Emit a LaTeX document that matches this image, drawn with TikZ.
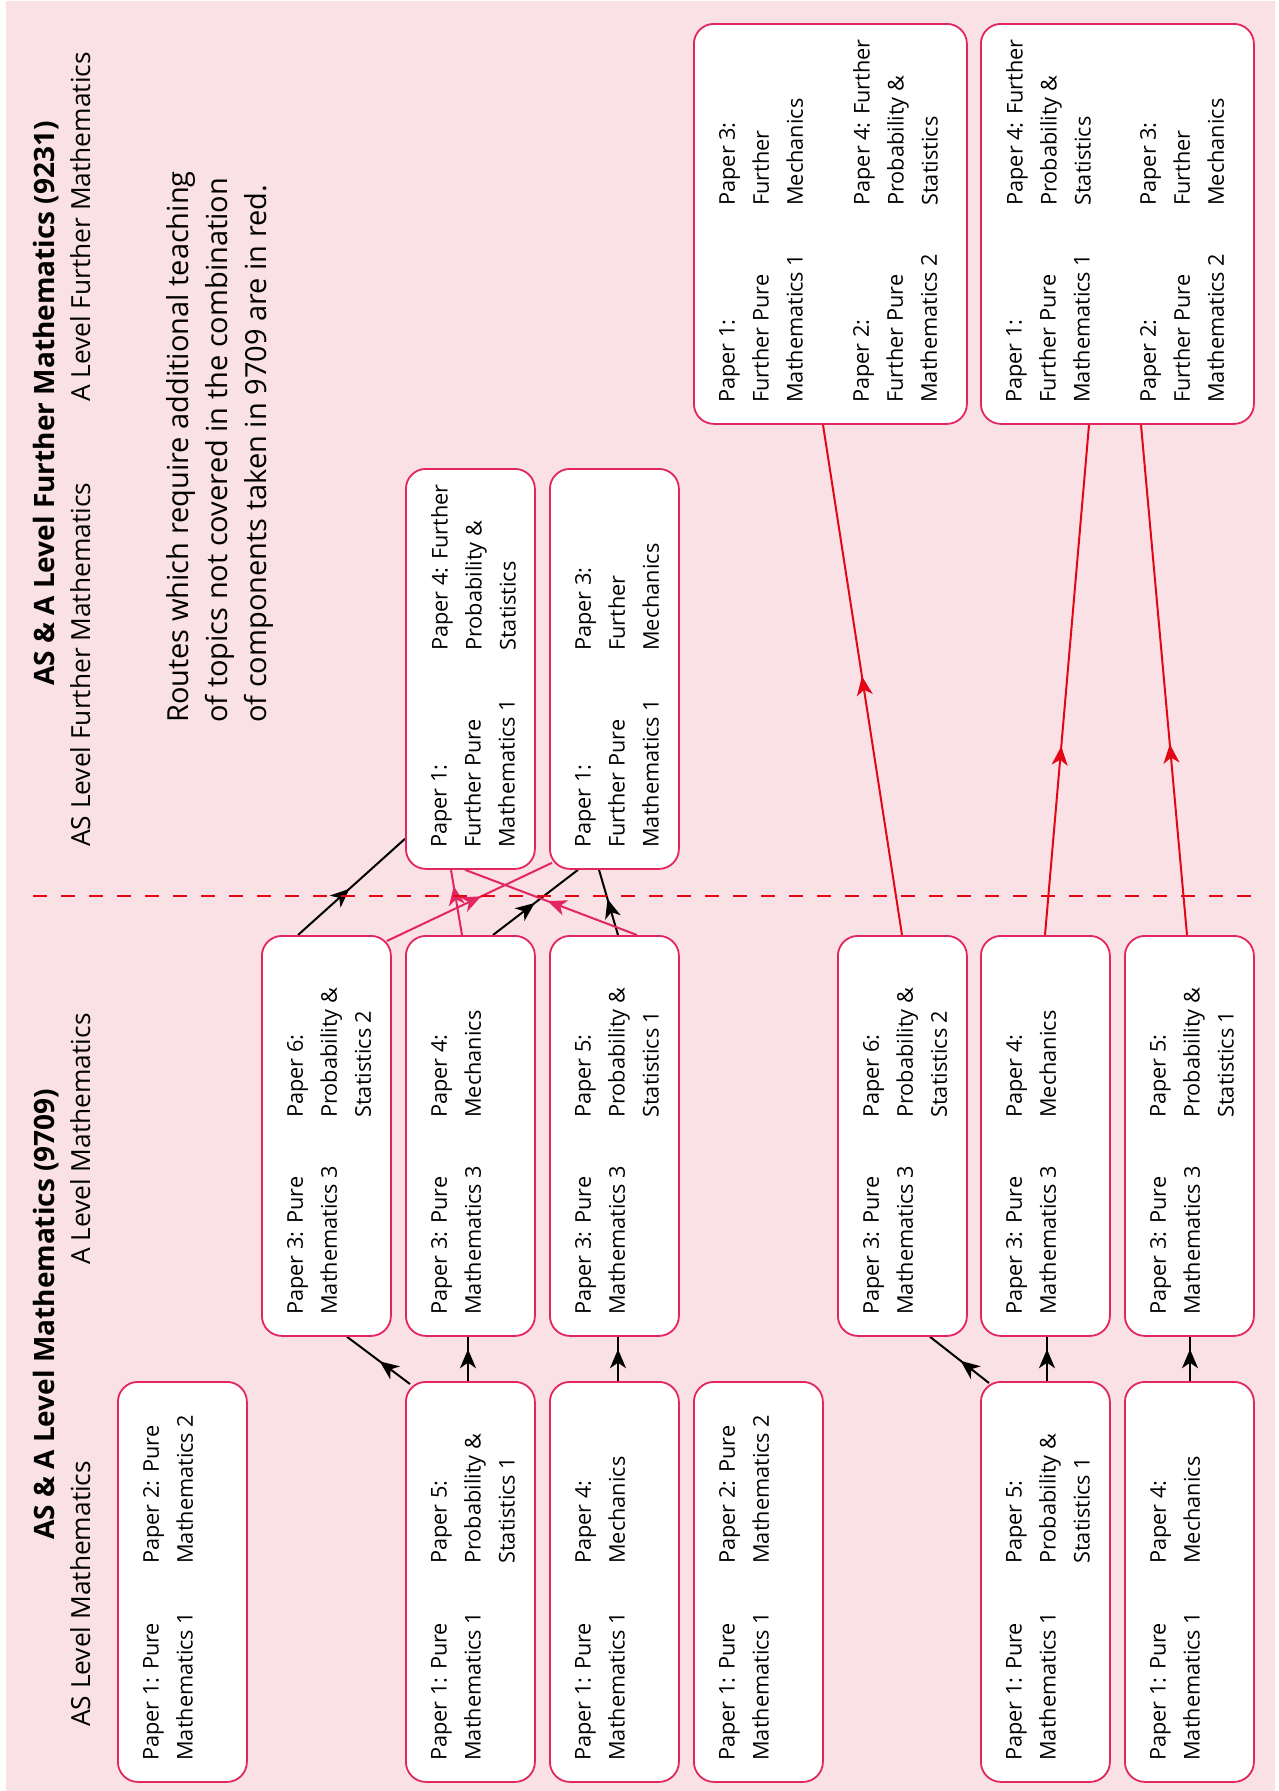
\documentclass[tikz,border=0pt]{standalone}
\usepackage{fontspec}
\setmainfont{Open Sans}
\usetikzlibrary{arrows.meta,decorations.markings,calc}
\definecolor{bgpink}{RGB}{249,225,229}
\definecolor{boxline}{RGB}{227,38,95}
\definecolor{redline}{RGB}{228,6,22}
\pgfdeclarelayer{bg}
\pgfdeclarelayer{lines}
\pgfsetlayers{bg,lines,main}
\tikzset{
  fbox/.style={draw=boxline, line width=1.8pt, fill=white, rounded corners=20pt,
    minimum height=400pt, minimum width=129pt, inner sep=0pt, anchor=north west},
  wbox/.style={fbox, minimum width=273pt},
  btext/.style={rotate=90, anchor=north west, align=left, inner sep=0pt,
    font=\fontsize{21.7pt}{34pt}\selectfont},
  hdr/.style={rotate=90, anchor=base west, inner sep=0pt, font=\fontsize{26.3pt}{30pt}\selectfont},
  ttl/.style={rotate=90, anchor=base west, inner sep=0pt, font=\bfseries\fontsize{28pt}{32pt}\selectfont},
  routestext/.style={rotate=90, anchor=north west, align=left, inner sep=0pt,
    font=\fontsize{29pt}{39pt}\selectfont},
  conn/.style={line width=2pt},
  blk/.style={conn, black},
  pnk/.style={conn, boxline},
  rd/.style={conn, redline},
  midarrow/.style={postaction={decorate}, decoration={markings,
    mark=at position #1 with {\arrow{Stealth[length=19pt,width=16pt,inset=5.5pt]}}}},
  midarrow/.default=0.5,
}
\newcommand\mycell[4]{\node[btext] (#1) at ($(#2.south west)+(#3)$) {#4};}
\begin{document}
\begin{tikzpicture}[x=1pt,y=1pt]
\useasboundingbox (0,0) rectangle (1278,-1791);
\begin{pgfonlayer}{bg}
\fill[bgpink] (6,-1) rectangle (1275,-1791);
\end{pgfonlayer}

% headers
\node[ttl] (t9231) at (54,-686) {AS \& A Level Further Mathematics (9231)};
\node[hdr] (hasf) at (90,-847) {AS Level Further Mathematics};
\node[hdr] (haf) at (90,-402) {A Level Further Mathematics};
\node[ttl] (t9709) at (54,-1540) {AS \& A Level Mathematics (9709)};
\node[hdr] (has) at (90,-1727) {AS Level Mathematics};
\node[hdr] (ha) at (90,-1265) {A Level Mathematics};
\node[routestext] (routes) at (166,-723) {Routes which require additional teaching\\of topics not covered in the combination\\of components taken in 9709 are in red.};

% dashed divider
\coordinate (dl) at (33,-896);
\coordinate (dr) at (1258,-896);
\draw[redline, line width=1.6pt, dash pattern=on 14pt off 14pt] (dl) -- (dr);

% AS level row
\node[fbox] (sA) at (117,-1381) {};
\node[fbox] (sB) at (405,-1381) {};
\node[fbox] (sC) at (549,-1381) {};
\node[fbox] (sD) at (693,-1381) {};
\node[fbox] (sE) at (980,-1381) {};
\node[fbox] (sF) at (1124,-1381) {};
% A level row
\node[fbox] (mB1) at (261,-935) {};
\node[fbox] (mB) at (405,-935) {};
\node[fbox] (mC) at (549,-935) {};
\node[fbox] (mG) at (837,-935) {};
\node[fbox] (mE) at (980,-935) {};
\node[fbox] (mF) at (1124,-935) {};
% AS further row
\node[fbox] (fs1) at (405,-468) {};
\node[fbox] (fs2) at (549,-468) {};
% A further row
\node[wbox] (fa1) at (693,-23) {};
\node[wbox] (fa2) at (980,-23) {};

% texts
\mycell{sAa}{sA}{26,22}{Paper 1: Pure\\Mathematics 1}
\mycell{sAb}{sA}{26,219}{Paper 2: Pure\\Mathematics 2}
\mycell{sBa}{sB}{26,22}{Paper 1: Pure\\Mathematics 1}
\mycell{sBb}{sB}{26,219}{Paper 5:\\Probability \&\\Statistics 1}
\mycell{sCa}{sC}{26,22}{Paper 1: Pure\\Mathematics 1}
\mycell{sCb}{sC}{26,219}{Paper 4:\\Mechanics}
\mycell{sDa}{sD}{26,22}{Paper 1: Pure\\Mathematics 1}
\mycell{sDb}{sD}{26,219}{Paper 2: Pure\\Mathematics 2}
\mycell{sEa}{sE}{26,22}{Paper 1: Pure\\Mathematics 1}
\mycell{sEb}{sE}{26,219}{Paper 5:\\Probability \&\\Statistics 1}
\mycell{sFa}{sF}{26,22}{Paper 1: Pure\\Mathematics 1}
\mycell{sFb}{sF}{26,219}{Paper 4:\\Mechanics}

\mycell{mB1a}{mB1}{26,22}{Paper 3: Pure\\Mathematics 3}
\mycell{mB1b}{mB1}{26,219}{Paper 6:\\Probability \&\\Statistics 2}
\mycell{mBa}{mB}{26,22}{Paper 3: Pure\\Mathematics 3}
\mycell{mBb}{mB}{26,219}{Paper 4:\\Mechanics}
\mycell{mCa}{mC}{26,22}{Paper 3: Pure\\Mathematics 3}
\mycell{mCb}{mC}{26,219}{Paper 5:\\Probability \&\\Statistics 1}
\mycell{mGa}{mG}{26,22}{Paper 3: Pure\\Mathematics 3}
\mycell{mGb}{mG}{26,219}{Paper 6:\\Probability \&\\Statistics 2}
\mycell{mEa}{mE}{26,22}{Paper 3: Pure\\Mathematics 3}
\mycell{mEb}{mE}{26,219}{Paper 4:\\Mechanics}
\mycell{mFa}{mF}{26,22}{Paper 3: Pure\\Mathematics 3}
\mycell{mFb}{mF}{26,219}{Paper 5:\\Probability \&\\Statistics 1}

\mycell{fs1a}{fs1}{26,22}{Paper 1:\\Further Pure\\Mathematics 1}
\mycell{fs1b}{fs1}{26,219}{Paper 4: Further\\Probability \&\\Statistics}
\mycell{fs2a}{fs2}{26,22}{Paper 1:\\Further Pure\\Mathematics 1}
\mycell{fs2b}{fs2}{26,219}{Paper 3:\\Further\\Mechanics}

\mycell{fa1a}{fa1}{26,22}{Paper 1:\\Further Pure\\Mathematics 1}
\mycell{fa1b}{fa1}{26,219}{Paper 3:\\Further\\Mechanics}
\mycell{fa1c}{fa1}{160,22}{Paper 2:\\Further Pure\\Mathematics 2}
\mycell{fa1d}{fa1}{160,219}{Paper 4: Further\\Probability \&\\Statistics}
\mycell{fa2a}{fa2}{26,22}{Paper 1:\\Further Pure\\Mathematics 1}
\mycell{fa2b}{fa2}{26,219}{Paper 4: Further\\Probability \&\\Statistics}
\mycell{fa2c}{fa2}{160,22}{Paper 2:\\Further Pure\\Mathematics 2}
\mycell{fa2d}{fa2}{160,219}{Paper 3:\\Further\\Mechanics}

% connectors
\begin{pgfonlayer}{lines}
% AS -> A level
\draw[blk, midarrow=0.48] ($(sB.north west)+(5,-3)$) -- ($(mB1.south west)+(86,0)$);
\draw[blk, midarrow=0.72] ($(sB.north west)+(63,0)$) -- ($(mB.south west)+(63,0)$);
\draw[blk, midarrow=0.72] ($(sC.north west)+(69,0)$) -- ($(mC.south west)+(69,0)$);
\draw[blk, midarrow=0.48] ($(sE.north west)+(9,-2)$) -- ($(mG.south west)+(93,0)$);
\draw[blk, midarrow=0.72] ($(sE.north west)+(67,0)$) -- ($(mE.south west)+(67,0)$);
\draw[blk, midarrow=0.72] ($(sF.north west)+(66,0)$) -- ($(mF.south west)+(66,0)$);
% A level -> AS further
\draw[blk, midarrow=0.48] ($(mB1.north west)+(37,0)$) -- ($(fs1.south west)+(0,31)$);
\draw[blk, midarrow=0.49] ($(mB.north west)+(88,0)$) -- ($(fs2.south west)+(29,0)$);
\draw[blk, midarrow=0.55] ($(mC.north west)+(69,0)$) -- ($(fs2.south west)+(50,0)$);
\draw[pnk, midarrow=0.57] ($(mB1.north east)+(-5,-6)$) -- ($(fs2.south west)+(3,7)$);
\draw[pnk, midarrow=0.75] ($(mB.north west)+(57,0)$) -- ($(fs1.south west)+(46,0)$);
\draw[pnk, midarrow=0.52] ($(mC.north west)+(88,0)$) -- ($(fs1.south west)+(60,0)$);
% A level -> A further
\draw[rd, midarrow=0.507] ($(mG.north west)+(65,0)$) -- ($(fa1.south west)+(130,0)$);
\draw[rd, midarrow=0.37] ($(mE.north west)+(65,0)$) -- ($(fa2.south west)+(109,0)$);
\draw[rd, midarrow=0.374] ($(mF.north west)+(63,0)$) -- ($(fa2.south west)+(161,0)$);
\end{pgfonlayer}
\end{tikzpicture}
\end{document}
